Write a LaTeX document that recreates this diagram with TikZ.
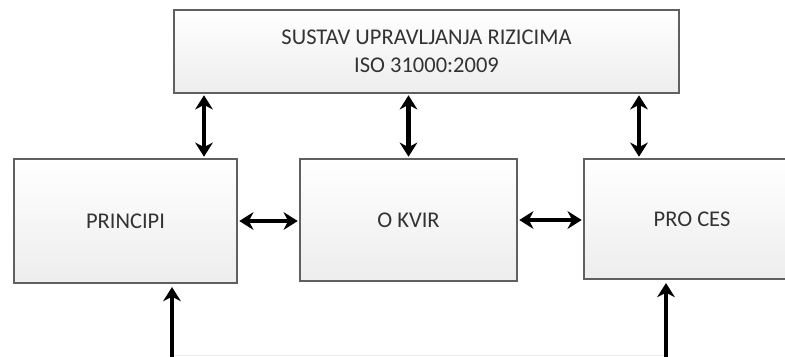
\documentclass[tikz,border=0pt]{standalone}
\usepackage{fontspec}
\setmainfont{Carlito}
\usetikzlibrary{arrows.meta}

\tikzset{
	okvirbox/.style={draw=gray!75!black, line width=0.6pt, top color=white, bottom color=gray!14,
		inner sep=0pt, text=black!80, font=\fontsize{12.8}{16}\selectfont, align=center},
	dbl/.style={{Stealth[length=8pt,width=10pt,inset=2.5pt]}-{Stealth[length=8pt,width=10pt,inset=2.5pt]}, line width=2.3pt, shorten <=1pt, shorten >=1pt},
	jed/.style={-{Stealth[length=8pt,width=10pt,inset=2.5pt]}, line width=2.3pt, shorten >=2pt}
}

\begin{document}
\begin{tikzpicture}
	\useasboundingbox (0,0) rectangle (15.7,-7.12);
	\clip (0,0) rectangle (15.7,-7.12);
	% okviri
	\node [okvirbox, minimum width=10.1cm, minimum height=1.66cm] (sustav) at (8.53,-1.03) {SUSTAV UPRAVLJANJA RIZICIMA\\ISO 31000:2009};
	\node [okvirbox, minimum width=4.46cm, minimum height=2.48cm] (principi) at (2.51,-4.42) {PRINCIPI};
	\node [okvirbox, minimum width=4.34cm, minimum height=2.44cm] (okvir) at (8.17,-4.40) {O KVIR};
	\node [okvirbox, minimum width=4.32cm, minimum height=2.40cm] (proces) at (13.84,-4.38) {PRO CES};
	\coordinate (dolje1) at (3.44,-7.2);
	\coordinate (dolje2) at (13.32,-7.2);
	\draw [gray!15] (dolje1 |- 0,-7.1) -- (dolje2 |- 0,-7.1);
	% strelice
	\draw [dbl] ([xshift=1.57cm]principi.north) -- ([xshift=1.57cm]principi.north |- sustav.south);
	\draw [dbl] (okvir.north) -- (okvir.north |- sustav.south);
	\draw [dbl] ([xshift=-1.06cm]proces.north) -- ([xshift=-1.06cm]proces.north |- sustav.south);
	\draw [dbl] (principi.east) -- (okvir.west |- principi.east);
	\draw [dbl] (okvir.east) -- (proces.west |- okvir.east);
	\draw [jed] (dolje1) -- (dolje1 |- principi.south);
	\draw [jed] (dolje2) -- (dolje2 |- proces.south);
\end{tikzpicture}
\end{document}
